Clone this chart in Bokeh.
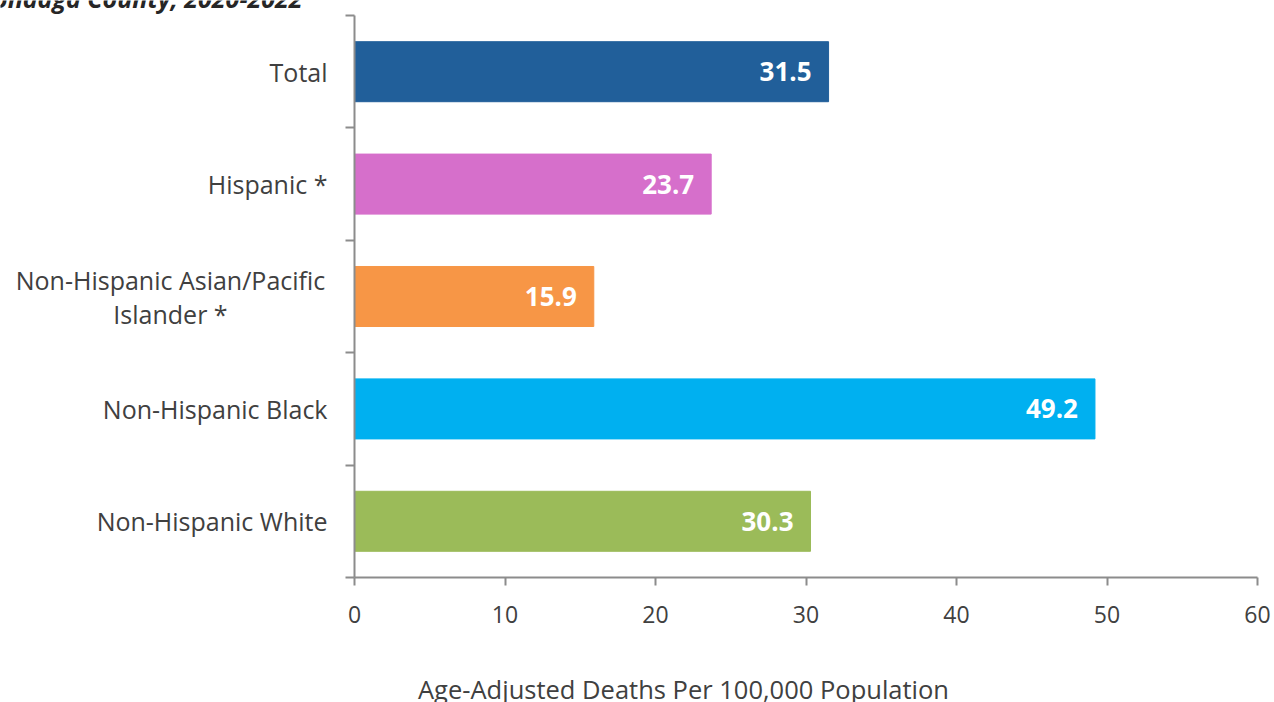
from bokeh.plotting import figure
from bokeh.models import Range1d, FixedTicker, ColumnDataSource, Label
from bokeh.core.properties import value
from bokeh.embed import file_html
from bokeh.resources import INLINE

categories = ["Total", "Hispanic *", "Non-Hispanic Asian/Pacific\nIslander *",
              "Non-Hispanic Black", "Non-Hispanic White"]
values = [31.5, 23.7, 15.9, 49.2, 30.3]
colors = ["#215F9A", "#D66FCB", "#F79646", "#00B0F0", "#9BBB59"]
x_ticks = [0, 10, 20, 30, 40, 50, 60]
title_text = "Onondaga County, 2020-2022"
x_title = "Age-Adjusted Deaths Per 100,000 Population"

n = len(categories)
ypos = [n - i - 0.5 for i in range(n)]

FONT = "Open Sans"
TXT = "#404040"
AX = "#8C8C8C"

# layout (canvas pixels)
W, H = 1274, 702
fl, fr, ft, fb = 354, 1257, 15, 577
xmin, xmax = x_ticks[0], x_ticks[-1]
sx = (fr - fl) / (xmax - xmin)
sy = (fb - ft) / n
x_range = Range1d(xmin - fl / sx, xmax + (W - fr) / sx)
y_range = Range1d(0 - (H - fb) / sy, n + ft / sy)

p = figure(width=W, height=H, output_backend="svg", toolbar_location=None,
           x_range=x_range, y_range=y_range,
           min_border_left=0, min_border_right=0, min_border_top=0,
           min_border_bottom=0)
p.outline_line_color = None
p.grid.grid_line_color = None
p.background_fill_color = "white"
p.border_fill_color = "white"

src = ColumnDataSource(dict(y=ypos, v=values, c=colors,
                            lab=[f"{v:.1f}" for v in values]))
p.hbar(y="y", left=0, right="v", height=0.534, color="c", source=src)

# value labels
p.text(x="v", y="y", text="lab", source=src, x_offset=-17,
       text_align="right", text_baseline="middle", text_color="white",
       text_font=value(FONT), text_font_style="bold", text_font_size="26px")

# category labels
single = [i for i, c in enumerate(categories) if "\n" not in c]
multi = [i for i, c in enumerate(categories) if "\n" in c]
p.text(x=[0] * len(single), y=[ypos[i] for i in single],
       text=[categories[i] for i in single], x_offset=-27,
       text_align="right", text_baseline="middle", text_color=TXT,
       text_font=value(FONT), text_font_size="25px")
p.text(x=[0] * len(multi), y=[ypos[i] for i in multi],
       text=[categories[i] for i in multi], x_offset=-184,
       text_align="center", text_baseline="middle", text_color=TXT,
       text_font=value(FONT), text_font_size="25px", text_line_height=1.0)

# axes at fixed locations
xa = p.xaxis[0]
xa.fixed_location = 0
xa.bounds = (xmin, xmax)
xa.ticker = FixedTicker(ticks=x_ticks)
xa.axis_line_color = AX
xa.axis_line_width = 2
xa.major_tick_line_color = AX
xa.major_tick_line_width = 2
xa.major_tick_out = 8
xa.major_tick_in = 0
xa.minor_tick_line_color = None
xa.major_label_text_font = FONT
xa.major_label_text_font_size = "23px"
xa.major_label_text_color = TXT
xa.major_label_standoff = 20

ya = p.yaxis[0]
ya.fixed_location = 0
ya.bounds = (0, n)
ya.ticker = FixedTicker(ticks=list(range(n + 1)))
ya.axis_line_color = AX
ya.axis_line_width = 2
ya.major_tick_line_color = AX
ya.major_tick_line_width = 2
ya.major_tick_out = 9
ya.major_tick_in = 0
ya.minor_tick_line_color = None
ya.major_label_text_font_size = "0px"
ya.major_label_overrides = {i: "" for i in range(n + 1)}

p.add_layout(Label(x=683, y=14, x_units="screen", y_units="screen", text=x_title,
                   text_align="center", text_baseline="alphabetic", text_color=TXT,
                   text_font=FONT, text_font_size="25.5px"))
p.add_layout(Label(x=302, y=H + 3, x_units="screen", y_units="screen",
                   text=title_text, text_align="right", text_baseline="alphabetic",
                   text_color="#262626", text_font=FONT, text_font_size="25px",
                   text_font_style="bold italic"))

open("out.html", "w").write(file_html(p, INLINE))
